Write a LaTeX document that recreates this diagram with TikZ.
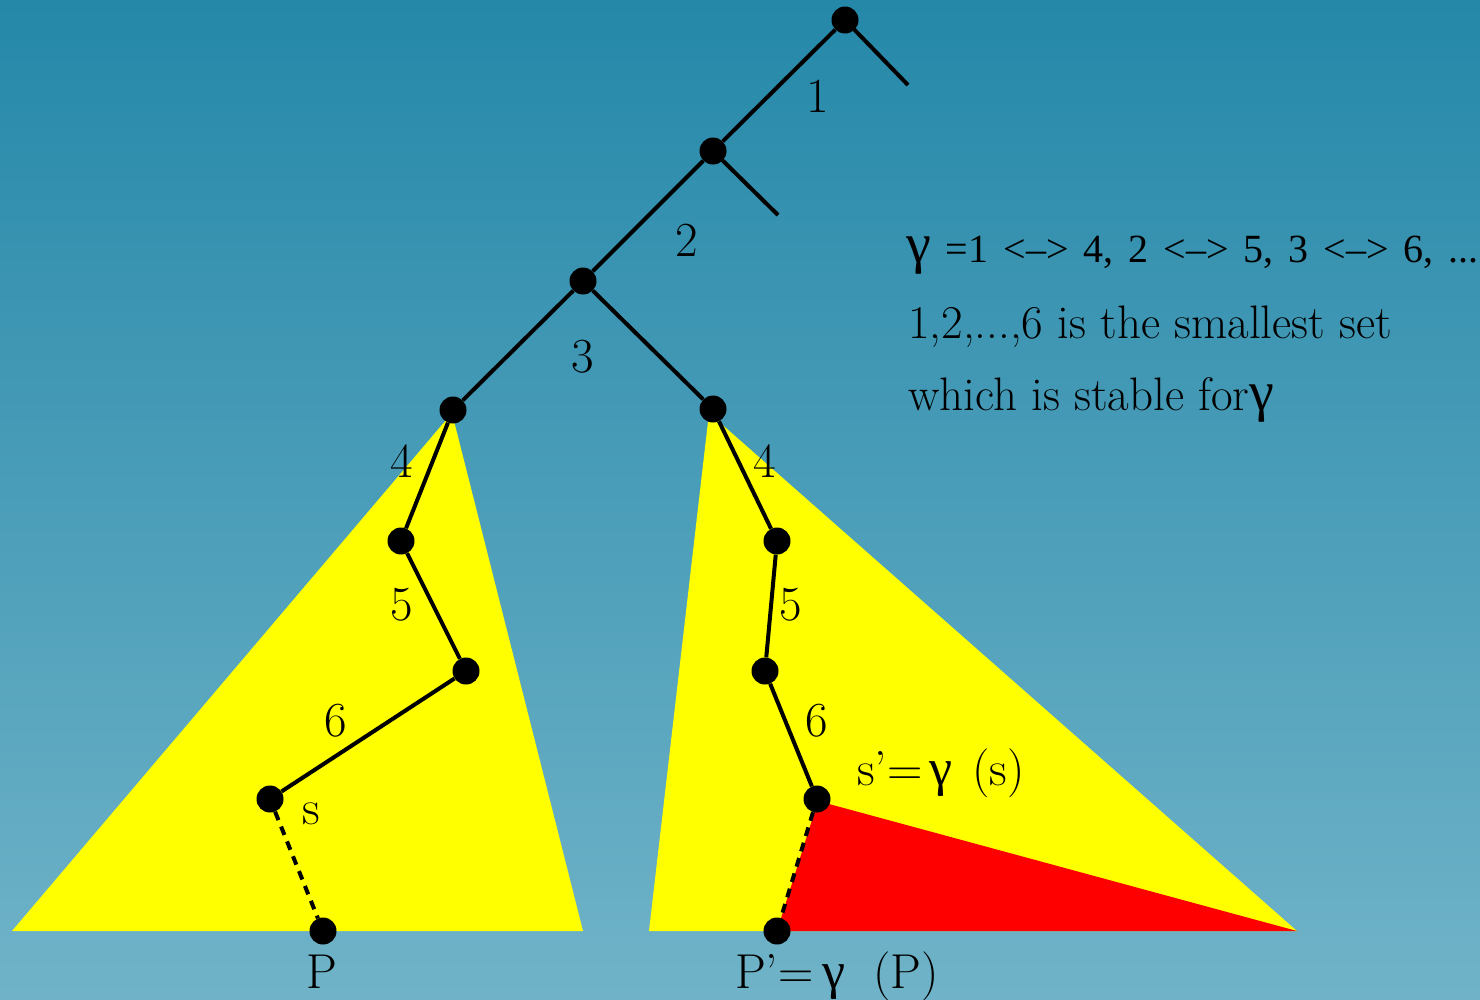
\documentclass[tikz,border=0pt]{standalone}
\usepackage{fontspec}
\newfontfamily\tnr{Liberation Serif}
\setmainfont{Latin Modern Roman}
\definecolor{bgtop}{HTML}{2588A9}
\definecolor{bgbot}{HTML}{70B3C8}
\definecolor{yel}{HTML}{FFFF00}
\definecolor{rd}{HTML}{FF0000}
\newcommand{\gam}{{\tnr\fontsize{56}{56}\selectfont γ}}
\newcommand{\gaml}{{\tnr\fontsize{52}{52}\selectfont γ}}
\begin{document}
\begin{tikzpicture}[x=1pt,y=-1pt,
  dot/.style={circle,fill=black,inner sep=0pt,minimum size=27pt},
  edge/.style={line width=4pt,black},
  dedge/.style={line width=4pt,black,dash pattern=on 9pt off 7pt},
  lbl/.style={inner sep=0pt,font=\fontsize{49}{49}\selectfont},
  txt/.style={inner sep=0pt,anchor=base west,font=\fontsize{47}{49}\selectfont}]
\useasboundingbox (0,0) rectangle (1480,999);
\shade[top color=bgtop,bottom color=bgbot] (0,0) rectangle (1480,999);
% triangles
\fill[yel] (12,931) -- (452,413) -- (583,931) -- cycle;
\fill[yel] (649,931) -- (709,413) -- (1297,931) -- cycle;
\fill[rd] (818,801) -- (777,931) -- (1297,931) -- cycle;
% nodes
\node[dot] (n1) at (845,20) {};
\node[dot] (n2) at (713,151) {};
\node[dot] (n3) at (583,281) {};
\node[dot] (a4) at (453,410) {};
\node[dot] (a5) at (401,541) {};
\node[dot] (a6) at (466,671) {};
\node[dot] (as) at (270,799) {};
\node[dot] (aP) at (323,931) {};
\node[dot] (b4) at (713,409) {};
\node[dot] (b5) at (777,541) {};
\node[dot] (b6) at (765,671) {};
\node[dot] (bs) at (817,799) {};
\node[dot] (bP) at (777,931) {};
\coordinate (t1) at (908,85);
\coordinate (t2) at (778,215);
% edges
\draw[edge] (n1.center) -- (t1);
\draw[edge] (n2.center) -- (t2);
\draw[edge] (n1) -- (n2);
\draw[edge] (n2) -- (n3);
\draw[edge] (n3) -- (a4);
\draw[edge] (n3) -- (b4);
\draw[edge] (a4) -- (a5);
\draw[edge] (a5) -- (a6);
\draw[edge] (a6) -- (as);
\draw[dedge] (as) -- (aP);
\draw[edge] (b4) -- (b5);
\draw[edge] (b5) -- (b6);
\draw[edge] (b6) -- (bs);
\draw[dedge] (bs) -- (bP);
% labels
\node[lbl] (l1) at (818,96) {1};
\node[lbl] (l2) at (687,240) {2};
\node[lbl] (l3) at (583,357) {3};
\node[lbl] (l4a) at (402,461) {4};
\node[lbl] (l4b) at (765,461) {4};
\node[lbl] (l5a) at (402,605) {5};
\node[lbl] (l5b) at (791,605) {5};
\node[lbl] (l6a) at (336,721) {6};
\node[lbl] (l6b) at (817,721) {6};
\node[lbl] (ls) at (311,814) {s};
\node[lbl,anchor=base west] (lsp) at (857,785) {s’=\hspace{7pt}\gaml\hspace{20pt}(s)};
\node[lbl,anchor=base] (lP) at (322,988) {P};
\node[lbl,anchor=base west] (lPp) at (735,988) {P’=\hspace{9pt}\gaml\hspace{28pt}(P)};
% text
\node[txt,font=\tnr\fontsize{40}{40}\selectfont] (x1) at (906,262) {\spaceskip=15pt plus 1pt\relax\gam\ =1 <–> 4, 2 <–> 5, 3 <–> 6, ...};
\node[txt] (x2) at (908,338) {1,2,...,6 is the smallest set};
\node[txt] (x3) at (908,410) {which is stable for\gam};
\end{tikzpicture}
\end{document}
